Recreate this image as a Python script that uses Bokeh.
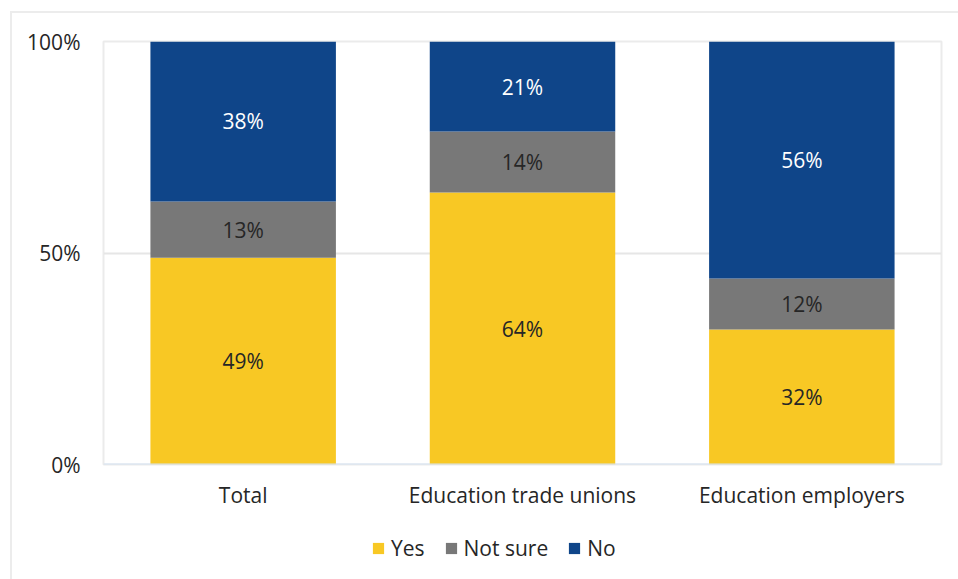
from bokeh.plotting import figure
from bokeh.layouts import column
from bokeh.models import ColumnDataSource, FixedTicker, LabelSet, Span, Legend, LegendItem
from bokeh.core.properties import value
from bokeh.embed import file_html
from bokeh.resources import INLINE

categories = ["Total", "Education trade unions", "Education employers"]
series = ["Yes", "Not sure", "No"]
yes = [48.9, 64.3, 31.9]
not_sure = [13.3, 14.4, 12.1]
no = [37.8, 21.3, 56.0]
colors = ["#f8c824", "#787878", "#0f4589"]
label_colors = ["#262626", "#262626", "#ffffff"]
y_ticks = [0, 50, 100]
y_tick_labels = {0: "0%", 50: "50%", 100: "100%"}

FONT = "Open Sans"
FS = "21px"

p = figure(x_range=categories, y_range=(0, 100), width=946, height=507,
           output_backend="svg", toolbar_location=None,
           min_border_left=91, min_border_right=17, min_border_top=28, min_border_bottom=56)

src = ColumnDataSource(dict(cat=categories, Yes=yes, **{"Not sure": not_sure}, No=no))
renderers = p.vbar_stack(series, x="cat", width=0.664, color=colors, source=src, line_width=0)

# data labels
vals = [yes, not_sure, no]
base = [0.0] * len(categories)
for s, v, c in zip(series, vals, label_colors):
    mids = [b + x / 2 for b, x in zip(base, v)]
    txt = [f"{round(x)}%" for x in v]
    lsrc = ColumnDataSource(dict(cat=categories, y=mids, t=txt))
    p.add_layout(LabelSet(x="cat", y="y", text="t", source=lsrc, text_align="center",
                          text_baseline="middle", text_font=value(FONT), text_font_size=FS,
                          text_color=c))
    base = [b + x for b, x in zip(base, v)]

p.outline_line_color = "#ebebeb"
p.outline_line_width = 2
p.xgrid.grid_line_color = None
p.ygrid.grid_line_color = "#e6e6e6"
p.ygrid.grid_line_width = 2
p.ygrid.ticker = FixedTicker(ticks=y_ticks)

p.yaxis.ticker = FixedTicker(ticks=y_ticks)
p.yaxis.major_label_overrides = y_tick_labels
for ax in (p.xaxis[0], p.yaxis[0]):
    ax.axis_line_color = None
    ax.major_tick_line_color = None
    ax.minor_tick_line_color = None
    ax.major_label_text_font = FONT
    ax.major_label_text_font_size = FS
    ax.major_label_text_color = "#262626"
p.yaxis.major_label_standoff = 17
p.xaxis.major_label_standoff = 10

p.add_layout(Span(location=0, dimension="width", line_color="#d5e3f4", line_width=2))

# legend in its own strip below the chart (same stacked bars, kept out of view)
pl = figure(width=946, height=59, output_backend="svg", toolbar_location=None,
            min_border=0, x_range=categories, y_range=(101, 102))
pl.axis.visible = False
pl.grid.visible = False
pl.outline_line_color = None
lr = pl.vbar_stack(series, x="cat", width=0.664, color=colors, source=src, line_width=0)
legend = Legend(items=[LegendItem(label=s, renderers=[r]) for s, r in zip(series, lr)],
                orientation="horizontal", location=(268, 17), label_text_font=FONT,
                label_text_font_size=FS, label_text_color="#262626",
                glyph_width=14, glyph_height=14, spacing=19, label_standoff=6,
                border_line_color=None, background_fill_alpha=0, margin=0, padding=4)
pl.add_layout(legend)

layout = column(p, pl, spacing=0,
                styles={"margin-left": "10px", "margin-top": "11px",
                        "border-left": "2px solid #ececec", "border-top": "2px solid #ececec"})

open("out.html", "w").write(file_html(layout, INLINE))
